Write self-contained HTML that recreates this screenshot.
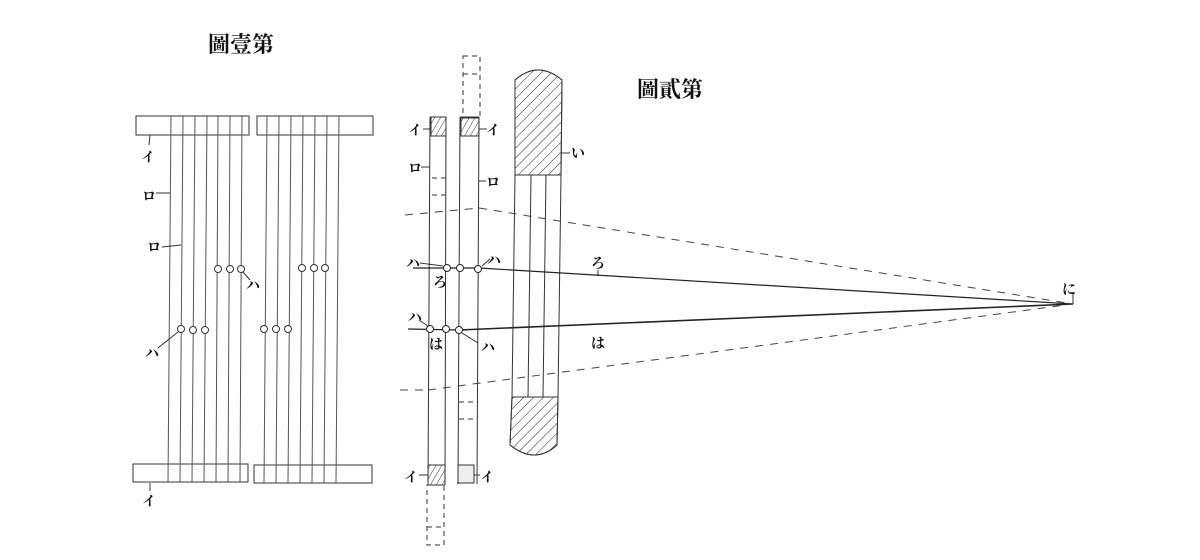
<!DOCTYPE html>
<html><head><meta charset="utf-8"><style>
html,body{margin:0;padding:0;background:#fff;}
svg{display:block;}
text{font-family:"Liberation Serif","Noto Serif CJK SC","Noto Sans CJK JP",serif;fill:#111;}
</style></head><body>
<svg width="1200" height="560" viewBox="0 0 1200 560" xmlns="http://www.w3.org/2000/svg">
<defs>
<pattern id="h" width="7" height="7" patternUnits="userSpaceOnUse" patternTransform="rotate(45)">
<line x1="0" y1="0" x2="0" y2="7" stroke="#222" stroke-width="1"/>
</pattern>
<pattern id="w" width="5" height="5" patternUnits="userSpaceOnUse" patternTransform="rotate(30)">
<line x1="0" y1="0" x2="0" y2="5" stroke="#333" stroke-width="1"/>
</pattern>
</defs>
<g stroke="#333" stroke-width="1" fill="none">
<rect x="136" y="116" width="113" height="19"/>
<rect x="257" y="116" width="116" height="19"/>
<rect x="133" y="464" width="115" height="18"/>
<rect x="254" y="465" width="118" height="18"/>
<g stroke="#555">
<line x1="171" y1="116" x2="168" y2="482"/>
<line x1="183" y1="116" x2="180" y2="482"/>
<line x1="195" y1="116" x2="192" y2="482"/>
<line x1="207" y1="116" x2="204" y2="482"/>
<line x1="218" y1="116" x2="216" y2="482"/>
<line x1="230" y1="116" x2="228" y2="482"/>
<line x1="242" y1="116" x2="240" y2="482"/>
<line x1="267" y1="116" x2="264" y2="483"/>
<line x1="279" y1="116" x2="276" y2="483"/>
<line x1="291" y1="116" x2="288" y2="483"/>
<line x1="303" y1="116" x2="300" y2="483"/>
<line x1="315" y1="116" x2="312" y2="483"/>
<line x1="327" y1="116" x2="324" y2="483"/>
<line x1="339" y1="116" x2="336" y2="483"/>
</g>
<g fill="#fff">
<circle cx="218" cy="269" r="3.5"/><circle cx="230" cy="269" r="3.5"/><circle cx="241" cy="269" r="3.5"/>
<circle cx="302" cy="268" r="3.5"/><circle cx="314" cy="268" r="3.5"/><circle cx="325" cy="268" r="3.5"/>
<circle cx="181" cy="329" r="3.5"/><circle cx="193" cy="330" r="3.5"/><circle cx="205" cy="330" r="3.5"/>
<circle cx="264" cy="329" r="3.5"/><circle cx="276" cy="329" r="3.5"/><circle cx="288" cy="329" r="3.5"/>
</g>
<line x1="156" y1="193" x2="170" y2="193"/>
<line x1="162" y1="247" x2="181" y2="245"/>
<line x1="243" y1="272" x2="250" y2="280"/>
<line x1="178" y1="332" x2="158" y2="348"/>
<line x1="150" y1="135" x2="149" y2="145"/>
<line x1="150" y1="483" x2="150" y2="491"/>

<line x1="430" y1="117" x2="428" y2="485"/>
<line x1="446" y1="117" x2="445" y2="485"/>
<line x1="430" y1="117" x2="446" y2="117"/>
<line x1="460" y1="117" x2="458" y2="484"/>
<line x1="479" y1="117" x2="477" y2="484"/>
<line x1="460" y1="117" x2="479" y2="117"/>
<rect x="431" y="117" width="15" height="19" fill="url(#w)"/>
<rect x="461" y="118" width="18" height="18" fill="url(#w)"/>
<rect x="428" y="465" width="17" height="20" fill="url(#w)"/>
<rect x="458" y="465" width="16" height="18" fill="#eee"/>
<line x1="428" y1="485" x2="445" y2="485"/>
<line x1="457" y1="483" x2="474" y2="483"/>
<g stroke-dasharray="5,4">
<rect x="463" y="56" width="17" height="61"/>
<line x1="463" y1="74" x2="480" y2="74"/>
<rect x="427" y="485" width="17" height="60"/>
<line x1="427" y1="527" x2="444" y2="527"/>
<line x1="432" y1="178" x2="446" y2="178"/>
<line x1="432" y1="195" x2="446" y2="195"/>
<line x1="459" y1="402" x2="474" y2="402"/>
<line x1="459" y1="419" x2="474" y2="419"/>
</g>
<path d="M515 80 Q538 60 562 80 L561 175 L515 175 Z" fill="url(#h)"/>
<path d="M515 80 Q538 60 562 80 L561 175 L515 175 Z"/>
<line x1="515" y1="175" x2="512" y2="397"/>
<line x1="561" y1="175" x2="558" y2="397"/>
<line x1="531" y1="175" x2="528" y2="397"/>
<line x1="546" y1="175" x2="543" y2="397"/>
<path d="M512 397 L558 397 L557 445 Q535 465 510 445 Z" fill="url(#h)"/>
<path d="M512 397 L558 397 L557 445 Q535 465 510 445 Z"/>
<line x1="562" y1="153" x2="570" y2="153"/>

<g stroke="#222" stroke-width="1.2">
<line x1="413" y1="268" x2="479" y2="268"/>
<line x1="479" y1="268" x2="1073" y2="304"/>
<line x1="408" y1="329" x2="459" y2="330"/>
<line x1="459" y1="330" x2="1073" y2="304" stroke-width="1.6"/>
</g>
<g stroke="#444" stroke-dasharray="8,7">
<line x1="405" y1="215" x2="479" y2="208"/>
<line x1="479" y1="208" x2="1073" y2="304"/>
<line x1="400" y1="390" x2="428" y2="390"/>
<line x1="428" y1="390" x2="1073" y2="304"/>
</g>
<line x1="1073" y1="294" x2="1073" y2="304"/>
<g fill="#fff" stroke="#222">
<circle cx="447" cy="268" r="3.5"/><circle cx="460" cy="268" r="3.5"/><circle cx="478" cy="269" r="3.5"/>
<circle cx="430" cy="329" r="3.5"/><circle cx="446" cy="329" r="3.5"/><circle cx="459" cy="330" r="3.5"/>
</g>
<line x1="420" y1="263" x2="443" y2="266"/>
<line x1="482" y1="266" x2="490" y2="259"/>
<line x1="419" y1="320" x2="428" y2="326"/>
<line x1="462" y1="333" x2="478" y2="343"/>
<line x1="423" y1="129" x2="431" y2="129"/>
<line x1="479" y1="129" x2="487" y2="129"/>
<line x1="421" y1="167" x2="430" y2="167"/>
<line x1="479" y1="181" x2="486" y2="181"/>
<line x1="419" y1="475" x2="428" y2="475"/>
<line x1="474" y1="475" x2="480" y2="475"/>
<line x1="598" y1="276" x2="598" y2="270"/>
</g>

<text x="208" y="52" font-size="22" font-weight="bold">圖壹第</text>
<text x="637" y="97" font-size="22" font-weight="bold">圖貳第</text>
<g font-size="14" font-weight="bold">
<text x="141" y="162">イ</text>
<text x="142" y="201">ロ</text>
<text x="147" y="252">ロ</text>
<text x="246" y="290">ハ</text>
<text x="145" y="358">ハ</text>
<text x="142" y="506">イ</text>
<text x="408" y="135">イ</text>
<text x="486" y="135">イ</text>
<text x="408" y="173">ロ</text>
<text x="486" y="187">ロ</text>
<text x="571" y="158">い</text>
<text x="406" y="268">ハ</text>
<text x="487" y="265">ハ</text>
<text x="433" y="287">ろ</text>
<text x="408" y="322">ハ</text>
<text x="429" y="349">は</text>
<text x="481" y="352">ハ</text>
<text x="591" y="268">ろ</text>
<text x="591" y="348">は</text>
<text x="1062" y="294">に</text>
<text x="404" y="482">イ</text>
<text x="480" y="482">イ</text>
</g>
</svg>
</body></html>
